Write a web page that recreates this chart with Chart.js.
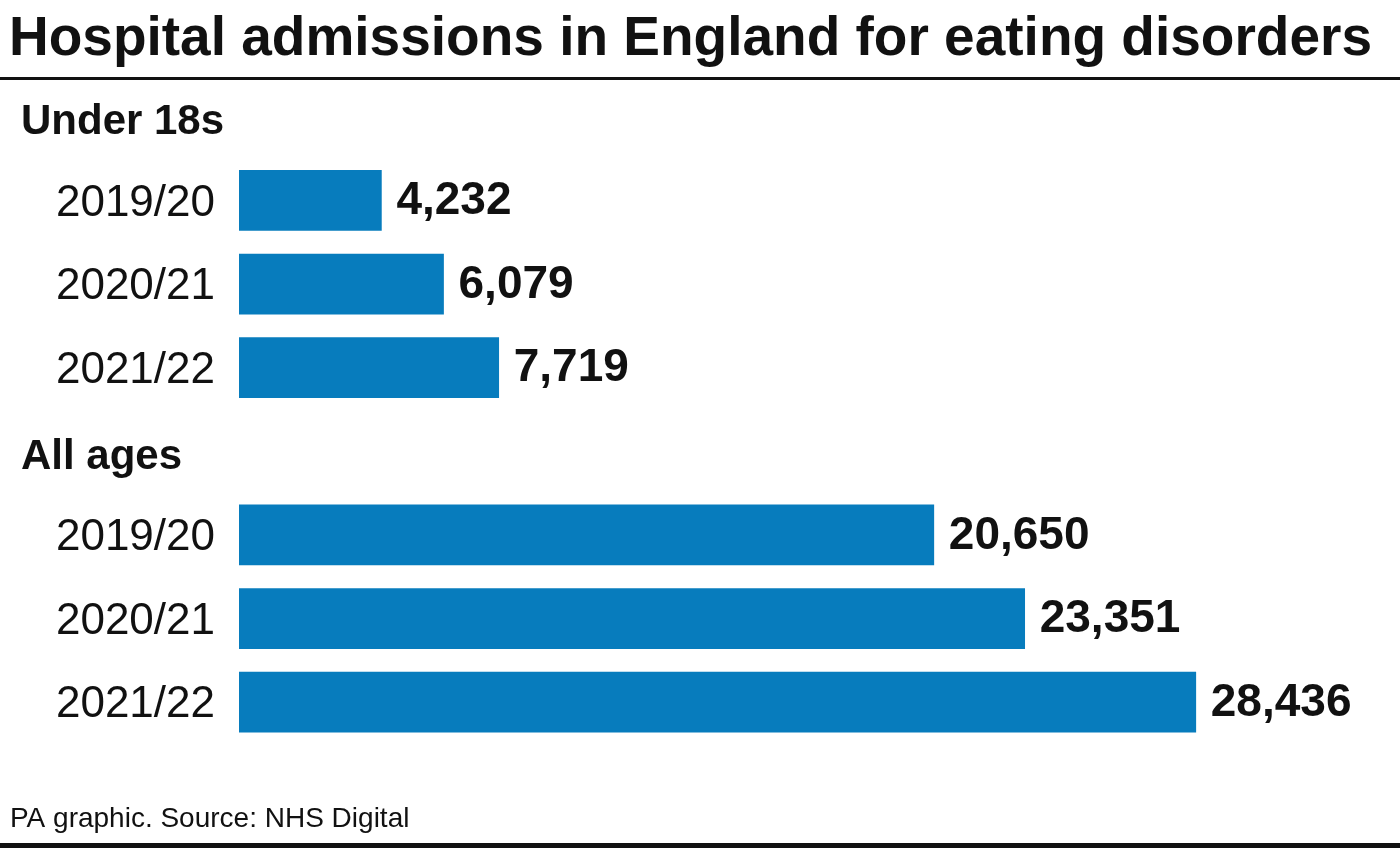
<!DOCTYPE html>
<html>
<head>
<meta charset="utf-8">
<script src="https://cdn.jsdelivr.net/npm/chart.js@4"></script>
<style>
  html, body { margin: 0; padding: 0; background: #fff; }
  #wrap { width: 1400px; height: 848px; }
</style>
</head>
<body>
<div id="wrap"><canvas id="chart" width="1400" height="848"></canvas></div>
<script>
// DATA
const groups = ["Under 18s", "All ages"];
const years = ["2019/20", "2020/21", "2021/22"];
const under18 = [4232, 6079, 7719];
const allAges = [20650, 23351, 28436];

const FONT = "'Liberation Sans', Arial, Helvetica, sans-serif";
const BLUE = "#077cbd";

// rows: a heading row (no bar) followed by the three years, per group
const rowLabels = [];
const rowValues = [];
const headerRows = {};
[under18, allAges].forEach((vals, g) => {
  headerRows[rowLabels.length] = groups[g];
  rowLabels.push(groups[g]);
  rowValues.push(null);
  years.forEach((y, i) => {
    rowLabels.push(y);
    rowValues.push(vals[i]);
  });
});

// title, rules, headings, footer and value labels
const extras = {
  id: "extras",
  afterDatasetsDraw(chart) {
    const ctx = chart.ctx;
    const yScale = chart.scales.y;
    ctx.save();
    ctx.fillStyle = "#111";

    // title
    ctx.textAlign = "left";
    ctx.textBaseline = "alphabetic";
    ctx.font = "bold 55px " + FONT;
    ctx.fillText("Hospital admissions in England for eating disorders", 9, 55);

    // rules
    ctx.fillRect(0, 77, 1400, 3);
    ctx.fillRect(0, 843, 1400, 5);

    // group headings
    ctx.font = "bold 42px " + FONT;
    ctx.textBaseline = "middle";
    Object.keys(headerRows).forEach(i => {
      ctx.fillText(headerRows[i], 21, yScale.getPixelForValue(+i) + 6);
    });

    // value labels
    ctx.font = "bold 46px " + FONT;
    chart.getDatasetMeta(0).data.forEach((bar, i) => {
      const v = rowValues[i];
      if (v == null) return;
      ctx.fillText(v.toLocaleString("en-GB"), bar.x + 15, bar.y + 1);
    });

    // footer
    ctx.font = "28px " + FONT;
    ctx.textBaseline = "alphabetic";
    ctx.fillText("PA graphic. Source: NHS Digital", 10, 827);
    ctx.restore();
  }
};

new Chart(document.getElementById("chart"), {
  type: "bar",
  data: {
    labels: rowLabels,
    datasets: [{
      data: rowValues,
      backgroundColor: BLUE,
      borderWidth: 0,
      barThickness: 60
    }]
  },
  options: {
    indexAxis: "y",
    responsive: false,
    animation: false,
    layout: { padding: { top: 75, bottom: 104, left: 0, right: 17 } },
    plugins: {
      legend: { display: false },
      tooltip: { enabled: false }
    },
    scales: {
      x: {
        display: false,
        min: 0,
        max: 34000
      },
      y: {
        grid: { display: false },
        border: { display: false },
        afterFit(scale) { scale.width = 239; },
        ticks: {
          padding: 16,
          labelOffset: 3,
          color: "#111",
          font: { family: FONT, size: 44 },
          callback: (v, i) => (headerRows[i] ? "" : rowLabels[i])
        }
      }
    }
  },
  plugins: [extras]
});
</script>
</body>
</html>
